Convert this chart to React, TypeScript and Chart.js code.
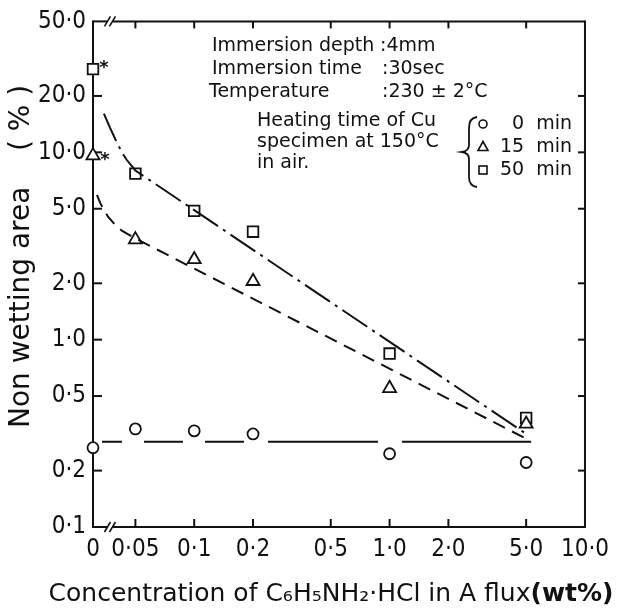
import { useEffect, useRef } from "react";
import { Chart, registerables } from "chart.js";
Chart.register(...registerables);

// ---- data ----
const X_TICK_CONC = [0, 0.05, 0.1, 0.2, 0.5, 1, 2, 5, 10];
const X_TICK_LABELS = ["0", "0·05", "0·1", "0·2", "0·5", "1·0", "2·0", "5·0", "10·0"];
const Y_TICKS = [0.1, 0.2, 0.5, 1, 2, 5, 10, 20, 50];
const Y_TICK_LABELS = ["0·1", "0·2", "0·5", "1·0", "2·0", "5·0", "10·0", "20·0", "50·0"];

const CONC = [0, 0.05, 0.1, 0.2, 1.0, 5.0];
const AREA_0MIN = [0.265, 0.334, 0.326, 0.314, 0.246, 0.221];
const AREA_15MIN = [9.6, 3.42, 2.68, 2.05, 0.55, 0.355];
const AREA_50MIN = [27.8, 7.7, 4.87, 3.77, 0.843, 0.382];

// fitted curves (concentration, area)
const FIT_0MIN_X = [0, 5.3];
const FIT_0MIN_Y = [0.285, 0.285];
const FIT_15MIN_X = [0.0318, 0.033, 0.0345, 0.0362, 0.0393, 0.0426, 0.05, 5.0];
const FIT_15MIN_Y = [5.92, 5.37, 4.93, 4.53, 4.11, 3.82, 3.47, 0.296];
const FIT_50MIN_X = [0.0345, 0.037, 0.0397, 0.0426, 0.0452, 0.05, 5.0];
const FIT_50MIN_Y = [16.1, 13.6, 11.6, 10.0, 9.1, 8.0, 0.314];

const X_TITLE = "Concentration of C₆H₅NH₂·HCl in A flux";
const X_TITLE_UNIT = "(wt%)";

// "0" sits before the axis break
const ZERO_POS = -1.518;
const xPos = (c: number) => (c <= 0 ? ZERO_POS : Math.log10(c));

const INK = "#111";
const FONT = "'DejaVu Sans', sans-serif";
const NARROW = "'Liberation Sans Narrow', 'DejaVu Sans Condensed', 'Noto Sans', sans-serif";

const framePlugin = {
  id: "frame",
  beforeDatasetsDraw(chart: any) {
    const { ctx, chartArea: a, scales } = chart;
    const xs = scales.x;
    const ys = scales.y;
    ctx.save();
    ctx.strokeStyle = INK;
    ctx.lineWidth = 2;
    ctx.lineCap = "butt";
    const seg = (x1: number, y1: number, x2: number, y2: number) => {
      ctx.beginPath();
      ctx.moveTo(x1, y1);
      ctx.lineTo(x2, y2);
      ctx.stroke();
    };
    seg(a.left, a.top - 1, a.left, a.bottom + 1);
    seg(a.right, a.top - 1, a.right, a.bottom + 1);
    const p0 = xs.getPixelForValue(xPos(0));
    const p1 = xs.getPixelForValue(xPos(0.05));
    const bx = p0 + (p1 - p0) * 0.4;
    for (const yy of [a.top, a.bottom]) {
      seg(a.left, yy, bx - 2.5, yy);
      seg(bx + 2.5, yy, a.right, yy);
      ctx.lineWidth = 1.6;
      seg(bx - 5.5, yy + 5, bx + 0.5, yy - 5);
      seg(bx - 0.5, yy + 5, bx + 5.5, yy - 5);
      ctx.lineWidth = 2;
    }
    // inward ticks
    for (let i = 1; i < X_TICK_CONC.length - 1; i++) {
      const px = xs.getPixelForValue(xPos(X_TICK_CONC[i]));
      seg(px, a.bottom, px, a.bottom - 8);
      seg(px, a.top, px, a.top + 7);
    }
    for (let i = 1; i < Y_TICKS.length - 1; i++) {
      const py = ys.getPixelForValue(Y_TICKS[i]);
      seg(a.left, py, a.left + 9, py);
      seg(a.right, py, a.right - 7, py);
    }
    ctx.restore();
  },
  afterDatasetsDraw(chart: any) {
    const { ctx } = chart;
    ctx.save();
    ctx.fillStyle = INK;
    ctx.font = `bold 18px ${FONT}`;
    ctx.textAlign = "center";
    ctx.textBaseline = "middle";
    const sq = chart.getDatasetMeta(5).data[0];
    const tr = chart.getDatasetMeta(4).data[0];
    ctx.fillText("*", sq.x + 11, sq.y - 1);
    ctx.fillText("*", tr.x + 12, tr.y + 5);
    ctx.restore();
  },
  afterDraw(chart: any) {
    const { ctx } = chart;
    ctx.save();
    ctx.fillStyle = INK;
    ctx.strokeStyle = INK;
    // x-axis title (drawn here so it is not squeezed to the axis width)
    ctx.textBaseline = "middle";
    ctx.textAlign = "left";
    ctx.font = `25px ${FONT}`;
    const w1 = ctx.measureText(X_TITLE).width;
    ctx.font = `bold 25px ${FONT}`;
    const w2 = ctx.measureText(X_TITLE_UNIT).width;
    const startX = 331 - (w1 + w2) / 2;
    ctx.font = `25px ${FONT}`;
    ctx.fillText(X_TITLE, startX, 594);
    ctx.font = `bold 25px ${FONT}`;
    ctx.fillText(X_TITLE_UNIT, startX + w1, 594);

    ctx.font = `19px ${FONT}`;
    ctx.fillText("Immersion depth", 212, 46);
    ctx.fillText(":4mm", 380, 46);
    ctx.fillText("Immersion time", 212, 69);
    ctx.fillText(":30sec", 382, 69);
    ctx.fillText("Temperature", 209, 92);
    ctx.fillText(":230 ± 2°C", 382, 92);
    ctx.fillText("Heating time of Cu", 257, 121);
    ctx.fillText("specimen at 150°C", 257, 142);
    ctx.fillText("in air.", 257, 163);
    ctx.textAlign = "right";
    ctx.fillText("0  min", 572, 124);
    ctx.fillText("15  min", 572, 147);
    ctx.fillText("50  min", 572, 170);
    // brace
    ctx.lineWidth = 1.8;
    ctx.beginPath();
    ctx.moveTo(477, 117);
    ctx.quadraticCurveTo(469, 118, 469, 128);
    ctx.lineTo(469, 145);
    ctx.quadraticCurveTo(469, 151, 462, 152);
    ctx.quadraticCurveTo(469, 153, 469, 159);
    ctx.lineTo(469, 177);
    ctx.quadraticCurveTo(469, 186, 477, 187);
    ctx.stroke();
    // legend symbols
    ctx.lineWidth = 1.6;
    ctx.beginPath();
    ctx.arc(483, 124, 4, 0, Math.PI * 2);
    ctx.stroke();
    ctx.beginPath();
    ctx.moveTo(483, 141.5);
    ctx.lineTo(488, 150.5);
    ctx.lineTo(478, 150.5);
    ctx.closePath();
    ctx.stroke();
    ctx.strokeRect(479, 166, 8, 8);
    ctx.restore();
  },
};

export default function App() {
  const ref = useRef<HTMLCanvasElement>(null);
  useEffect(() => {
    const pts = (xs: number[], ys: number[]) => xs.map((c, i) => ({ x: xPos(c), y: ys[i] }));
    const lineDs = (label: string, data: any[], dash: number[]) => ({
      label,
      data,
      showLine: true,
      borderColor: INK,
      borderWidth: 2,
      borderDash: dash,
      pointRadius: 0,
      pointHoverRadius: 0,
      fill: false,
      clip: false,
    });
    const markDs = (label: string, data: any[], style: string, r: number) => ({
      label,
      data,
      showLine: false,
      pointStyle: style,
      pointRadius: r,
      borderColor: INK,
      backgroundColor: "#fff",
      pointBorderWidth: 1.8,
      borderWidth: 1.8,
      clip: false,
    });
    const chart = new Chart(ref.current!, {
      type: "scatter",
      data: {
        datasets: [
          lineDs("fit 0 min", pts(FIT_0MIN_X, FIT_0MIN_Y), [0, 9, 20, 22, 39, 22, 39, 24, 110, 24, 300]),
          lineDs("fit 15 min", pts(FIT_15MIN_X, FIT_15MIN_Y), [13, 8]),
          lineDs("fit 50 min", pts(FIT_50MIN_X, FIT_50MIN_Y), [30, 6, 3, 6]),
          markDs("0 min", pts(CONC, AREA_0MIN), "circle", 5.5),
          markDs("15 min", pts(CONC, AREA_15MIN), "triangle", 7.5),
          markDs("50 min", pts(CONC, AREA_50MIN), "rect", 7.5),
        ] as any,
      },
      options: {
        animation: false,
        responsive: false,
        events: [],
        layout: { padding: { left: 0, top: 18, right: 29, bottom: 0 } },
        plugins: { legend: { display: false }, tooltip: { enabled: false } },
        scales: {
          x: {
            type: "linear",
            min: ZERO_POS,
            max: 1,
            grid: { display: false, drawTicks: false },
            border: { display: false },
            afterBuildTicks: (s: any) => {
              s.ticks = X_TICK_CONC.map((c) => ({ value: xPos(c) }));
            },
            afterFit: (s: any) => {
              s.height = 86;
            },
            ticks: {
              autoSkip: false,
              maxRotation: 0,
              padding: 8,
              color: INK,
              font: { family: NARROW, size: 24 },
              callback: (_v: any, i: number) => X_TICK_LABELS[i],
            },
            title: { display: false },
          },
          y: {
            type: "logarithmic",
            min: 0.1,
            max: 50,
            grid: { display: false, drawTicks: false },
            border: { display: false },
            afterBuildTicks: (s: any) => {
              s.ticks = Y_TICKS.map((v) => ({ value: v }));
            },
            afterFit: (s: any) => {
              s.width = 93;
            },
            ticks: {
              autoSkip: false,
              padding: 7,
              color: INK,
              font: { family: NARROW, size: 24 },
              callback: (_v: any, i: number) => Y_TICK_LABELS[i],
            },
            title: {
              display: true,
              text: "    Non wetting area    ( % )",
              color: INK,
              font: { family: FONT, size: 28 },
              padding: { top: 5, bottom: 0 },
            },
          },
        },
      },
      plugins: [framePlugin],
    } as any);
    return () => chart.destroy();
  }, []);
  return (
    <div style={{ position: "fixed", left: 0, top: 0, width: 617, height: 613, background: "#fff" }}>
      <canvas ref={ref} width={617} height={613} style={{ display: "block" }} />
    </div>
  );
}
